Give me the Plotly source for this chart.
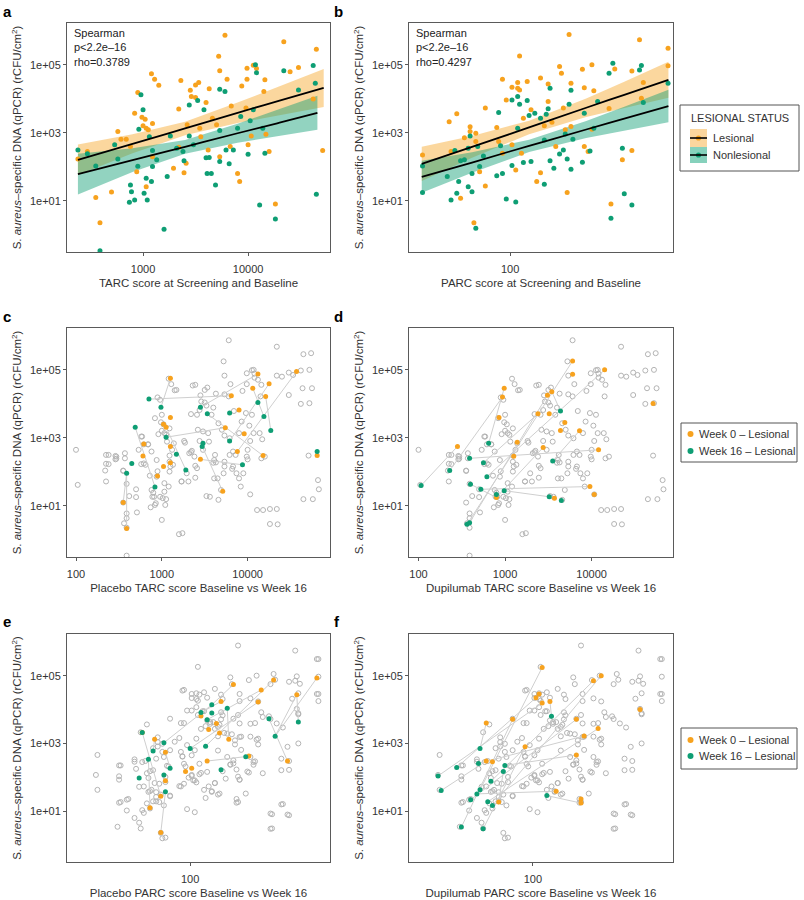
import numpy as np
import plotly.graph_objects as go

# ---------------- DATA (all values are log10 of the plotted quantity) ----------------
# Panel a: TARC (x) vs S. aureus DNA (y)
a_les_x = [2.38,2.47,2.55,2.59,2.70,2.76,2.79,2.84,2.88,2.94,2.95,2.92,2.99,3.00,3.02,3.03,3.05,3.03,3.08,3.11,3.15,3.09,3.09,3.29,3.34,3.36,3.39,3.42,3.45,3.46,3.50,3.53,3.50,3.54,3.55,3.60,3.63,3.62,3.66,3.70,3.72,3.73,3.73,3.78,3.80,3.83,3.84,3.90,3.92,3.94,3.98,3.99,3.99,4.00,4.03,4.05,4.08,4.15,4.16,4.17,4.20,4.26,4.34,4.40,4.48,4.65,4.62,4.71,3.34,3.41]
a_les_y = [2.23,2.45,1.10,0.36,1.26,3.04,2.81,2.81,2.60,1.86,4.19,3.58,3.46,3.21,3.40,3.14,3.09,1.42,4.74,4.58,4.40,3.28,2.30,1.96,3.70,4.54,1.83,3.24,4.25,4.07,4.41,4.48,4.04,3.14,2.89,3.89,4.30,2.50,3.43,3.24,5.25,4.83,2.30,5.87,4.58,2.60,3.79,1.81,1.57,4.38,3.73,4.58,4.90,2.65,2.91,4.99,4.89,4.22,4.56,2.96,2.45,0.91,5.68,4.80,4.92,5.46,4.00,2.48,2.58,2.11]
a_non_x = [2.38,2.47,2.55,2.73,2.76,2.87,2.88,2.89,2.92,2.95,2.96,2.98,3.00,3.01,3.03,3.04,3.06,3.08,3.09,3.09,3.13,3.20,3.23,3.26,3.32,3.38,3.39,3.44,3.44,3.48,3.52,3.58,3.60,3.61,3.63,3.65,3.69,3.73,3.78,3.73,3.73,3.79,3.82,3.86,3.90,3.93,4.00,4.02,4.07,4.08,4.05,4.11,4.14,4.16,4.26,4.34,4.48,4.62,4.64,4.65,2.59]
a_non_y = [2.50,2.39,2.03,2.65,2.23,0.96,1.47,1.27,1.03,2.02,3.11,4.12,3.68,1.23,1.67,1.03,2.89,1.57,2.48,2.01,2.21,0.17,1.72,2.91,2.55,2.45,2.18,2.91,3.82,2.65,3.95,3.68,2.27,1.81,2.28,1.81,1.47,4.28,4.22,3.07,2.16,2.50,2.09,2.50,3.14,3.48,2.37,3.36,5.00,4.77,3.68,0.88,3.14,2.40,0.47,4.83,4.26,4.98,4.46,1.20,-0.46]
# regression lines and 95% bands, panel a
a_les_fit_x = [2.38,2.90,3.40,3.90,4.30,4.72]
a_les_fit_y = [2.21,2.68,3.13,3.59,3.95,4.32]
a_les_lo = [1.76,2.40,2.93,3.29,3.53,3.76]
a_les_hi = [2.66,2.96,3.33,3.89,4.37,4.88]
a_non_fit_x = [2.38,2.90,3.40,3.90,4.30,4.66]
a_non_fit_y = [1.79,2.20,2.59,2.99,3.30,3.59]
a_non_lo = [1.19,1.85,2.39,2.71,2.90,3.09]
a_non_hi = [2.39,2.55,2.79,3.27,3.70,4.09]

# Panel b: PARC (x) vs S. aureus DNA (y)
b_les_x = [1.54,1.68,1.69,1.72,1.74,1.76,1.79,1.79,1.81,1.82,1.82,1.84,1.87,1.87,1.93,1.94,1.96,1.96,1.98,2.01,2.01,2.03,2.04,2.04,2.05,2.05,2.06,2.07,2.09,2.11,2.14,2.16,2.16,2.18,2.20,2.20,2.22,2.24,2.26,2.27,2.28,2.29,2.30,2.31,2.32,2.32,2.38,2.39,2.39,2.41,2.43,2.43,2.44,2.52,2.53,2.55,2.59,2.64,2.64,2.68,2.69,2.70,2.83,2.83]
b_les_y = [2.35,3.33,2.45,3.56,1.08,2.86,3.18,3.04,0.36,2.99,2.75,1.86,3.73,1.44,3.16,2.75,4.58,2.40,3.97,4.34,2.65,1.91,4.48,4.31,5.26,4.26,2.40,3.43,4.51,3.68,1.57,4.61,1.83,3.21,4.44,3.92,3.31,2.60,4.95,4.75,3.73,3.09,1.25,5.89,3.19,4.46,4.87,2.60,4.33,2.45,3.11,5.00,4.24,3.72,0.91,4.88,2.21,2.48,4.82,5.74,4.02,4.48,5.49,4.97]
b_non_x = [1.54,1.54,1.67,1.69,1.71,1.72,1.73,1.74,1.76,1.78,1.78,1.79,1.80,1.80,1.82,1.83,1.84,1.86,1.93,1.94,1.95,1.96,1.98,2.01,2.01,2.03,2.04,2.04,2.05,2.07,2.09,2.10,2.11,2.13,2.16,2.18,2.18,2.19,2.20,2.21,2.21,2.23,2.26,2.28,2.29,2.30,2.31,2.32,2.32,2.33,2.38,2.39,2.42,2.44,2.46,2.52,2.53,2.54,2.59,2.60,2.64,2.68,2.69,2.70,2.83]
b_non_y = [2.03,1.25,1.72,1.03,2.48,1.23,1.57,2.18,2.21,1.42,2.55,2.91,1.81,1.27,0.20,2.60,2.01,2.32,1.74,3.60,2.62,1.81,1.06,2.04,3.97,0.97,4.07,3.14,3.84,2.13,3.95,3.51,2.16,3.58,3.43,2.79,1.49,3.55,3.71,4.31,2.18,1.96,2.38,2.50,2.97,2.23,3.84,4.25,1.93,2.81,2.14,3.58,2.47,3.14,3.92,4.75,0.49,5.05,2.55,1.21,0.88,4.85,4.98,3.89,4.46]
b_les_fit_x = [1.536,1.80,2.10,2.40,2.60,2.832]
b_les_fit_y = [2.09,2.59,3.16,3.74,4.12,4.56]
b_les_lo = [1.59,2.27,2.96,3.47,3.74,4.03]
b_les_hi = [2.59,2.91,3.36,4.01,4.50,5.09]
b_non_fit_x = [1.536,1.80,2.10,2.40,2.60,2.832]
b_non_fit_y = [1.71,2.13,2.62,3.10,3.42,3.79]
b_non_lo = [1.24,1.83,2.44,2.85,3.07,3.31]
b_non_hi = [2.18,2.43,2.80,3.35,3.77,4.27]

# Extra samples (other visits) shown in grey in c/d (TARC) and e/f (PARC)
cd_extra_x = [2.00,2.02,2.35,2.35,2.34,2.35,2.46,2.46,2.57,2.57,2.55,2.56,2.59,2.59,2.59,2.62,2.70,2.71,2.77,2.79,2.81,2.84,2.86,2.90,2.91,2.93,2.94,2.98,3.00,3.05,3.10,3.12,3.14,3.17,3.23,3.24,3.27,3.31,3.35,3.39,3.41,3.48,3.52,3.56,3.61,3.66,3.72,3.79,3.83,3.87,3.95,3.99,4.03,4.07,4.12,4.18,4.34,4.35,4.53,4.72,4.74,4.72,4.75,4.83,4.76,4.82]
cd_extra_y = [2.65,1.62,2.50,2.24,2.04,1.72,2.47,2.37,2.55,2.40,2.04,0.49,0.64,0.78,1.65,1.29,1.49,0.81,3.04,2.25,2.21,2.81,1.89,1.39,1.27,1.08,2.35,1.27,0.59,1.20,2.16,2.65,2.84,4.41,1.72,0.20,2.86,1.72,2.62,4.56,3.68,3.19,1.29,1.27,2.35,1.18,1.96,2.99,2.16,1.96,1.96,2.45,1.34,3.14,4.71,0.88,0.91,0.46,4.85,5.00,5.49,4.02,4.46,1.49,1.20,1.76]
ef_extra_x = [1.40,1.39,1.40,1.53,1.54,1.55,1.55,1.59,1.59,1.60,1.64,1.64,1.65,1.64,1.67,1.68,1.70,1.70,1.72,1.73,1.74,1.75,1.76,1.77,1.78,1.78,1.81,1.84,1.83,1.85,1.87,1.94,1.95,1.97,1.99,2.01,2.02,2.04,2.06,2.09,2.10,2.12,2.14,2.16,2.19,2.26,2.28,2.31,2.30,2.31,2.32,2.36,2.37,2.41,2.47,2.52,2.52,2.59,2.63,2.64,2.70,2.82,2.82,
              1.95,1.96,2.01,2.06,2.08,2.11,2.13,2.15,2.18,2.21,2.24,2.27,2.32,2.33,2.39,2.42,2.44,2.47,2.51,2.56,2.60,2.63,2.66,2.70,2.71,2.83,1.98,2.03,1.90,1.87]
ef_extra_y = [2.66,2.07,1.63,0.54,1.93,2.35,1.27,1.34,1.02,1.36,2.53,2.46,2.25,0.80,0.66,0.49,0.95,1.73,2.12,1.98,1.59,1.63,1.29,1.83,1.29,1.56,1.49,0.22,1.17,2.34,1.46,1.73,2.61,2.32,1.99,2.07,1.91,1.85,2.09,1.63,1.39,1.73,1.59,1.83,1.52,2.37,2.41,2.02,1.36,1.27,1.93,1.52,2.17,2.37,2.12,0.93,0.48,1.20,0.90,2.22,3.00,5.49,4.46,
              4.56,3.60,4.46,4.44,3.95,4.35,3.63,3.63,3.49,3.83,3.29,3.27,3.59,3.20,3.20,3.60,2.97,3.78,3.80,3.59,3.47,2.90,4.32,3.86,4.76,4.25,2.95,2.80,3.05,2.80]

# Panel c: placebo TARC, week 0 lesional (orange) / week 16 lesional (green)
c_w0_x = [3.10,3.10,3.02,3.05,3.10,2.79,2.78,2.55,2.59,2.95,3.02,3.10,3.45,3.71,3.81,3.90,3.74,3.96,3.88,4.06,4.12,4.25,4.21,4.18,4.57,4.81]
c_w0_y = [4.75,3.60,3.40,3.31,2.75,2.82,2.47,1.10,0.34,1.88,2.16,2.27,2.37,1.43,4.24,3.82,3.30,3.12,2.60,4.46,4.88,4.59,4.22,2.48,4.95,2.48]
c_w16_x = [2.85,2.99,2.69,2.65,2.59,2.92,3.05,3.17,3.28,3.45,3.53,3.48,3.47,3.79,3.79,3.94,4.12,4.19,4.27,4.81]
c_w16_y = [4.14,3.90,3.31,2.25,1.96,1.56,3.02,2.52,2.06,3.90,3.71,2.84,2.75,3.73,2.91,2.21,4.04,3.63,3.22,2.60]
c_seg_x0 = [2.85,3.10,2.69,2.55,2.59,3.05,3.05,3.45,3.53,3.47,3.45,3.79,3.88,4.06,4.21]
c_seg_y0 = [4.14,4.75,3.31,1.10,0.34,3.31,3.02,3.90,3.71,2.75,2.37,2.91,2.60,4.46,4.22]
c_seg_x1 = [3.81,2.99,2.92,2.59,2.59,3.28,3.74,4.12,4.18,3.71,3.94,4.25,4.57,4.19,4.27]
c_seg_y1 = [4.24,3.90,1.56,1.96,1.96,2.06,3.30,4.88,2.48,1.43,2.21,4.59,4.95,3.63,3.22]

# Panel d: dupilumab TARC
d_w0_x = [3.78,3.78,2.99,2.97,2.93,3.49,3.54,3.38,3.51,3.14,3.69,3.64,3.86,2.45,3.10,3.44,4.08,3.98,4.03,3.57,2.90,4.71,4.15]
d_w0_y = [5.26,4.87,4.46,4.20,3.60,4.25,4.36,3.71,3.71,2.87,3.45,3.22,3.21,2.75,2.46,2.72,2.65,1.57,1.34,1.23,1.25,4.01,5.00]
d_w16_x = [2.03,2.36,2.59,2.75,2.79,2.60,2.72,2.99,2.90,3.51,3.65,3.55,3.64,2.81,2.56,2.59]
d_w16_y = [1.60,2.04,2.40,2.27,1.86,1.64,1.49,1.45,1.34,1.27,1.16,2.32,3.79,2.84,0.46,0.51]
d_seg_x0 = [2.03,2.36,2.75,2.59,2.72,2.60,2.99,2.56,2.59,2.79,2.81,3.55,3.64,2.90]
d_seg_y0 = [1.60,2.04,2.27,2.40,1.49,1.64,1.45,0.46,0.51,1.86,2.84,2.32,3.79,1.25]
d_seg_x1 = [2.45,2.97,3.38,4.08,3.98,2.90,3.51,3.78,3.49,4.15,2.99,3.86,3.54,3.44]
d_seg_y1 = [2.75,4.20,3.71,2.65,1.57,1.25,1.27,5.26,4.25,5.00,4.46,3.21,4.36,2.72]

# Panel e: placebo PARC
e_w0_x = [1.69,1.77,1.84,1.84,1.81,1.74,1.81,1.97,2.01,2.07,2.12,2.17,2.19,2.20,2.25,2.28,2.38,2.44,2.46,2.54,2.63,2.69,2.82,2.11]
e_w0_y = [3.32,3.12,2.74,1.90,1.44,1.10,0.37,2.17,2.27,3.81,3.41,3.59,3.31,4.24,3.12,4.74,2.63,4.22,4.58,4.87,2.48,4.44,4.93,2.48]
e_w16_x = [1.69,1.76,1.73,1.67,1.83,1.83,1.84,1.87,2.00,2.07,2.10,2.11,2.14,2.14,2.24,2.36,2.51,2.55,2.70,2.20]
e_w16_y = [3.32,2.78,2.53,1.98,3.02,2.07,1.57,2.27,2.85,3.91,2.92,3.70,3.90,4.14,4.04,2.61,3.73,3.21,3.63,2.22]
e_seg_x0 = [1.69,1.73,1.76,1.83,1.84,1.83,1.87,2.00,2.07,2.14,2.10,2.11,2.11,2.24,2.51,2.55,2.55,2.70]
e_seg_y0 = [3.32,2.53,2.78,3.02,1.57,2.07,2.27,2.85,3.91,4.14,2.92,3.70,2.48,4.04,3.73,3.21,3.21,3.63]
e_seg_x1 = [1.81,1.74,1.77,2.14,1.81,1.84,1.84,2.44,2.20,2.28,2.54,2.46,2.36,2.25,2.63,2.69,2.82,2.69]
e_seg_y1 = [1.44,1.10,3.12,4.14,0.37,1.90,2.74,4.22,4.24,4.74,4.87,4.58,2.61,3.12,2.48,4.44,4.93,4.44]

# Panel f: dupilumab PARC
f_w0_x = [1.70,1.87,1.70,1.74,1.95,2.06,2.02,2.04,2.06,2.11,2.15,2.28,2.33,2.28,2.31,2.31,2.39,2.44,2.42,2.69,1.78]
f_w0_y = [3.60,3.71,2.48,2.46,2.90,5.24,4.35,4.46,4.19,4.24,1.59,3.71,3.22,2.66,1.36,1.24,4.85,5.00,3.44,4.00,1.27]
f_w16_x = [1.39,1.41,1.51,1.54,1.60,1.64,1.66,1.65,1.66,1.68,1.71,1.73,1.74,1.82,1.81,2.09,2.12]
f_w16_y = [2.04,1.61,2.29,0.53,1.34,1.51,1.63,2.41,2.85,0.48,1.28,1.88,1.17,2.35,2.17,1.46,3.80]
f_seg_x0 = [1.39,1.51,1.41,1.54,1.68,1.60,1.64,1.66,1.65,1.66,1.71,1.73,1.74,1.82,2.09,2.12,1.81]
f_seg_y0 = [2.04,2.29,1.61,0.53,0.48,1.34,1.51,1.63,2.41,2.85,1.28,1.88,1.17,2.35,1.46,3.80,2.17]
f_seg_x1 = [2.06,2.02,1.70,1.87,1.95,2.28,2.15,2.06,2.33,1.70,2.42,2.39,2.44,2.28,2.31,2.11,1.78]
f_seg_y1 = [4.19,4.35,2.48,3.71,2.90,3.71,1.59,5.24,3.22,3.60,3.44,4.85,5.00,2.66,1.24,4.24,1.27]

# tick labels
y_tickvals = [1e1, 1e3, 1e5]
y_ticktext = ["1e+01", "1e+03", "1e+05"]
tarc_ticks = [100, 1000, 10000]
parc_ticks = [100]

# ---------------- STYLE ----------------
ORANGE = "#F7A21E"
GREEN = "#0E9E74"
ORANGE_FILL = "rgba(247,166,40,0.45)"
GREEN_FILL = "rgba(14,158,116,0.45)"
ORANGE_KEY = "#FBD69E"
GREEN_KEY = "#86D1BC"
GREY = "#B4B4B4"
SEG = "#CFCFCF"
FRAME = "#5A5A5A"
FONT = "Liberation Sans, Arial, sans-serif"
TXT = "#333333"

W, H = 804, 900
def px_x(p): return p / W
def px_y(p): return 1 - p / H

cols = [(67, 330), (409, 673)]
rows = [(23, 252), (328, 557), (634, 862)]
xranges = {1: [2.276, 4.78], 2: [1.469, 2.856], 3: [1.895, 4.96], 4: [1.89, 4.94], 5: [1.203, 2.905], 6: [1.203, 2.902]}
xticks = {1: [1000, 10000], 2: parc_ticks, 3: tarc_ticks, 4: tarc_ticks, 5: parc_ticks, 6: parc_ticks}
xtitles = {1: "TARC score at Screening and Baseline", 2: "PARC score at Screening and Baseline",
           3: "Placebo TARC score Baseline vs Week 16", 4: "Dupilumab TARC score Baseline vs Week 16",
           5: "Placebo PARC score Baseline vs Week 16", 6: "Dupilumab PARC score Baseline vs Week 16"}
ytitle = "S. <i>aureus</i>–specific DNA (qPCR) (rCFU/cm<sup>2</sup>)"

fig = go.Figure()
layout = dict(width=W, height=H, margin=dict(l=0, r=0, t=0, b=0),
              paper_bgcolor="white", plot_bgcolor="white",
              font=dict(family=FONT, size=11, color=TXT), showlegend=False)

for i in range(1, 7):
    r = (i - 1) // 2
    c = (i - 1) % 2
    xd = [px_x(cols[c][0]), px_x(cols[c][1])]
    yd = [px_y(rows[r][1]), px_y(rows[r][0])]
    sfx = "" if i == 1 else str(i)
    layout["xaxis" + sfx] = dict(domain=xd, anchor="y" + sfx, type="log", range=xranges[i],
                                 tickvals=xticks[i], ticktext=[str(t) for t in xticks[i]],
                                 showgrid=False, zeroline=False, showline=True, mirror=True,
                                 linecolor=FRAME, linewidth=1, ticks="outside", ticklen=3,
                                 ticklabelstandoff=4,
                                 tickcolor=FRAME, tickfont=dict(size=11, color=TXT),
                                 title=dict(text=xtitles[i], font=dict(size=11.5, color=TXT), standoff=4))
    layout["yaxis" + sfx] = dict(domain=yd, anchor="x" + sfx, type="log", range=[-0.5, 6.23],
                                 tickvals=y_tickvals, ticktext=y_ticktext,
                                 showgrid=False, zeroline=False, showline=True, mirror=True,
                                 linecolor=FRAME, linewidth=1, ticks="outside", ticklen=3,
                                 tickcolor=FRAME, tickfont=dict(size=11, color=TXT),
                                 title=dict(text=ytitle, font=dict(size=11.5, color=TXT), standoff=5))
fig.update_layout(**layout)

def P(v):
    return [10 ** t for t in v]

def band(xa, ya, xs, lo, hi, fill):
    fig.add_trace(go.Scatter(x=P(xs) + P(xs)[::-1], y=P(hi) + P(lo)[::-1], fill="toself",
                             fillcolor=fill, line=dict(width=0), mode="lines", hoverinfo="skip",
                             xaxis=xa, yaxis=ya))

def pts(xa, ya, xs, ys, color, size=5):
    fig.add_trace(go.Scatter(x=P(xs), y=P(ys), mode="markers", marker=dict(color=color, size=size),
                             xaxis=xa, yaxis=ya))

def fitline(xa, ya, xs, ys):
    fig.add_trace(go.Scatter(x=P(xs), y=P(ys), mode="lines", line=dict(color="black", width=1.8, shape="spline"),
                             xaxis=xa, yaxis=ya))

def grey(xa, ya, xs, ys):
    fig.add_trace(go.Scatter(x=P(xs), y=P(ys), mode="markers",
                             marker=dict(symbol="circle-open", color=GREY, size=5, line=dict(width=1)),
                             xaxis=xa, yaxis=ya))

def segs(xa, ya, x0, y0, x1, y1):
    sx, sy = [], []
    for a, b, c2, d in zip(x0, y0, x1, y1):
        sx += [10 ** a, 10 ** c2, None]
        sy += [10 ** b, 10 ** d, None]
    fig.add_trace(go.Scatter(x=sx, y=sy, mode="lines", line=dict(color=SEG, width=1),
                             xaxis=xa, yaxis=ya))

# Panel a
band("x", "y", a_les_fit_x, a_les_lo, a_les_hi, ORANGE_FILL)
band("x", "y", a_non_fit_x, a_non_lo, a_non_hi, GREEN_FILL)
pts("x", "y", a_les_x, a_les_y, ORANGE)
pts("x", "y", a_non_x, a_non_y, GREEN)
fitline("x", "y", a_les_fit_x, a_les_fit_y)
fitline("x", "y", a_non_fit_x, a_non_fit_y)
# Panel b
band("x2", "y2", b_les_fit_x, b_les_lo, b_les_hi, ORANGE_FILL)
band("x2", "y2", b_non_fit_x, b_non_lo, b_non_hi, GREEN_FILL)
pts("x2", "y2", b_les_x, b_les_y, ORANGE)
pts("x2", "y2", b_non_x, b_non_y, GREEN)
fitline("x2", "y2", b_les_fit_x, b_les_fit_y)
fitline("x2", "y2", b_non_fit_x, b_non_fit_y)

grey_cd_x = a_les_x + a_non_x + cd_extra_x
grey_cd_y = a_les_y + a_non_y + cd_extra_y
grey_ef_x = b_les_x + b_non_x + ef_extra_x
grey_ef_y = b_les_y + b_non_y + ef_extra_y

for (xa, ya, gx, gy, s, w0, w16) in [
    ("x3", "y3", grey_cd_x, grey_cd_y, (c_seg_x0, c_seg_y0, c_seg_x1, c_seg_y1), (c_w0_x, c_w0_y), (c_w16_x, c_w16_y)),
    ("x4", "y4", grey_cd_x, grey_cd_y, (d_seg_x0, d_seg_y0, d_seg_x1, d_seg_y1), (d_w0_x, d_w0_y), (d_w16_x, d_w16_y)),
    ("x5", "y5", grey_ef_x, grey_ef_y, (e_seg_x0, e_seg_y0, e_seg_x1, e_seg_y1), (e_w0_x, e_w0_y), (e_w16_x, e_w16_y)),
    ("x6", "y6", grey_ef_x, grey_ef_y, (f_seg_x0, f_seg_y0, f_seg_x1, f_seg_y1), (f_w0_x, f_w0_y), (f_w16_x, f_w16_y)),
]:
    grey(xa, ya, gx, gy)
    segs(xa, ya, *s)
    pts(xa, ya, w0[0], w0[1], ORANGE)
    pts(xa, ya, w16[0], w16[1], GREEN)

# ---------------- Legends (drawn as shapes + text) ----------------
shapes = []
ann = []
def rect(x0, y0, x1, y1, fill, line=None):
    shapes.append(dict(type="rect", xref="paper", yref="paper", x0=px_x(x0), x1=px_x(x1),
                       y0=px_y(y1), y1=px_y(y0), fillcolor=fill,
                       line=dict(color=line or "rgba(0,0,0,0)", width=1 if line else 0), layer="above"))
def hline(x0, x1, y, color="black", w=1.6):
    shapes.append(dict(type="line", xref="paper", yref="paper", x0=px_x(x0), x1=px_x(x1),
                       y0=px_y(y), y1=px_y(y), line=dict(color=color, width=w), layer="above"))
def dot(cx, cy, r, color):
    shapes.append(dict(type="circle", xref="paper", yref="paper", x0=px_x(cx - r), x1=px_x(cx + r),
                       y0=px_y(cy + r), y1=px_y(cy - r), fillcolor=color, line=dict(width=0), layer="above"))
def text(t, x, y, size=11, anchor="left", color=TXT):
    ann.append(dict(text=t, x=px_x(x), y=px_y(y), xref="paper", yref="paper", xanchor=anchor,
                    yanchor="middle", showarrow=False, font=dict(size=size, color=color)))

legend1_labels = ["Lesional", "Nonlesional"]
legend2_labels = ["Week 0 – Lesional", "Week 16 – Lesional"]

rect(680, 105, 799, 171, "white", "#555")
text("LESIONAL STATUS", 689, 118)
for lab, y0, y1, keyc, dc in [(legend1_labels[0], 129, 147, ORANGE_KEY, ORANGE),
                              (legend1_labels[1], 147, 163, GREEN_KEY, GREEN)]:
    rect(690, y0, 707, y1, keyc)
    cy = (y0 + y1) / 2
    dot(698.5, cy, 2.6, dc)
    hline(690, 707, cy)
    text(lab, 711, cy)

for top, bot, ys in [(423, 462, (434, 451)), (728, 769, (740, 756))]:
    rect(681, top, 797, bot, "white", "#555")
    for lab, cy, col in zip(legend2_labels, ys, [ORANGE, GREEN]):
        dot(690.5, cy, 3, col)
        text(lab, 697, cy)

# Panel letters and statistics
letters = ["a", "b", "c", "d", "e", "f"]
letter_pos = [(1, 1), (332, 1), (1, 306), (332, 306), (1, 611), (332, 611)]
for L, (lx, ly) in zip(letters, letter_pos):
    ann.append(dict(text="<b>%s</b>" % L, x=px_x(lx), y=px_y(ly), xref="paper", yref="paper",
                    xanchor="left", yanchor="top", showarrow=False, font=dict(size=15, color="black")))
for lx, rho in [(72, "0.3789"), (414, "0.4297")]:
    ann.append(dict(text="Spearman<br>p&lt;2.2e–16<br>rho=%s" % rho, x=px_x(lx), y=px_y(25), xref="paper",
                    yref="paper", xanchor="left", yanchor="top", align="left", showarrow=False,
                    font=dict(size=11, color="#222")))
fig.update_layout(shapes=shapes, annotations=ann)

# remove the browser's default 8px body margin so the figure sits at the page origin
fig.write_html("out.html", config={"displayModeBar": False},
               post_script="document.body.style.margin='0px';")
